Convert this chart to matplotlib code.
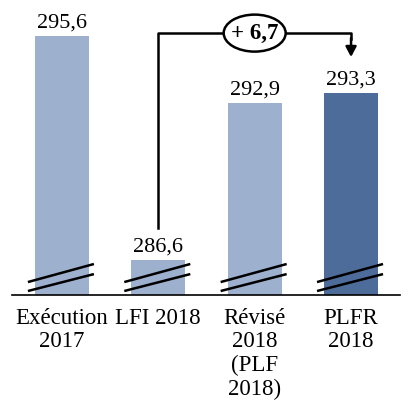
import matplotlib
matplotlib.use('Agg')
import matplotlib.pyplot as plt
from matplotlib.patches import Ellipse
import numpy as np

# ================= DATA =================
categories = ['Exécution\n2017', 'LFI 2018', 'Révisé\n2018\n(PLF\n2018)', 'PLFR\n2018']
values = [295.6, 286.6, 292.9, 293.3]
colors = ['#9DB0CE', '#9DB0CE', '#9DB0CE', '#4E6C9A']
diff_from, diff_to = 1, 3

plt.rcParams['font.family'] = ['Liberation Serif', 'DejaVu Serif']

fig = plt.figure(figsize=(4.12, 4.15), dpi=100)
ax = fig.add_axes([12 / 412, 1 - 295 / 415, 388 / 412, 295 / 415])

x = np.arange(len(values))
ax.bar(x, values, width=0.56, color=colors, zorder=2)
ax.set_xlim(-0.518, 3.508)
ax.set_ylim(285.19, 297.04)

# value labels
for xi, v in zip(x, values):
    ax.annotate(f"{v:.1f}".replace('.', ','), (xi, v), xytext=(0, 2.5),
                textcoords='offset points', ha='center', va='bottom', fontsize=16)

# break marks (two slanted lines on each bar)
for xi in x:
    ax.plot([xi - 0.353, xi + 0.332], [285.71, 286.435], color='black', lw=1.8, zorder=3,
            solid_capstyle='butt')
    ax.plot([xi - 0.353, xi + 0.332], [285.35, 286.03], color='black', lw=1.8, zorder=3,
            solid_capstyle='butt')

# connector from LFI to PLFR
y_top = 295.71
ax.plot([diff_from, diff_from, diff_to, diff_to], [287.88, y_top, y_top, y_top - 0.25],
        color='black', lw=1.8, zorder=3, clip_on=False)
ax.annotate('', xy=(diff_to, 294.75), xytext=(diff_to, y_top - 0.2),
            arrowprops=dict(arrowstyle='-|>,head_length=0.6,head_width=0.32', color='black',
                            lw=1.8, shrinkA=0, shrinkB=0))
xm = (diff_from + diff_to) / 2
ax.add_patch(Ellipse((xm, y_top), 62 / 96.4, 37 / 24.9, facecolor='white',
                     edgecolor='black', lw=1.8, zorder=4))
d = values[diff_to] - values[diff_from]
ax.text(xm, y_top, f"+ {d:.1f}".replace('.', ','), ha='center', va='center',
        fontsize=16.5, fontweight='bold', zorder=5)

# axes styling
for s in ['top', 'right', 'left']:
    ax.spines[s].set_visible(False)
ax.spines['bottom'].set_linewidth(1.2)
ax.set_yticks([])
ax.set_xticks(x)
ax.set_xticklabels(categories, fontsize=16.5, linespacing=1.17)
ax.tick_params(axis='x', length=0, pad=9)

plt.savefig('out.png', dpi=100)
plt.close()
